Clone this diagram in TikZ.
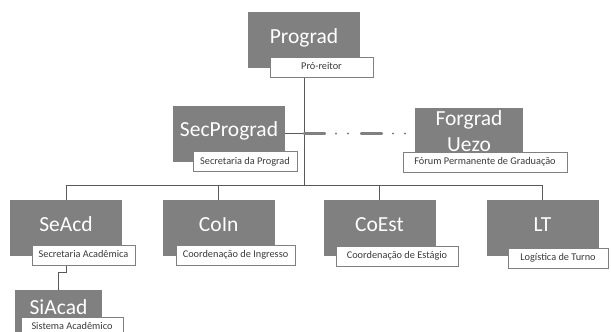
\documentclass[tikz,border=0pt]{standalone}
\usepackage{fontspec}
\setmainfont{Carlito}
\usetikzlibrary{backgrounds}
\definecolor{unitgray}{HTML}{808080}
\definecolor{linegray}{HTML}{595959}
\definecolor{tagtext}{HTML}{3A3A3A}

\begin{document}
\begin{tikzpicture}[x=1pt,y=-1pt,
  unitbox/.style={fill=unitgray,text=white,inner sep=0pt,minimum width=112pt,
    minimum height=56pt,font=\fontsize{21.5}{25}\selectfont},
  unit/.style={unitbox,text height=15pt,text depth=9pt},
  tag/.style={draw=unitgray,fill=white,line width=0.6pt,inner sep=0pt,minimum height=20pt,
    text=tagtext,font=\fontsize{10.3}{12}\selectfont,text height=7pt,text depth=2pt},
  link/.style={draw=linegray,line width=0.8pt},
  forum/.style={draw=unitgray,line width=2.2pt,line cap=round,
    dash pattern=on 21pt off 11pt on 0pt off 12pt on 0pt off 13pt}]
  \useasboundingbox (0,0) rectangle (611,332);
  % top
  \node[unit] (prograd) at (304,40) {Prograd};
  \node[tag,minimum width=103pt] (prograd-tag) at (321.5,67) {Pró-reitor};
  \node[unit] (secprograd) at (229,133.5) {SecPrograd};
  \node[tag,minimum width=104pt] (secprograd-tag) at (245,161.5) {Secretaria da Prograd};
  \node[unitbox,minimum width=108pt,minimum height=46pt,align=center,
    font=\fontsize{21.5}{25.5}\selectfont] (forgrad) at (469,131) {Forgrad\\Uezo};
  \node[tag,minimum width=164pt] (forgrad-tag) at (485,162) {Fórum Permanente de Graduação};
  % bottom row
  \foreach \n/\x/\t in {seacd/66/SeAcd,coin/218.75/CoIn,coest/379.5/CoEst,lt/542.5/LT}
    \node[unit] (\n) at (\x,228) {\t};
  \node[tag,minimum width=103pt] (seacd-tag) at (83.5,255) {Secretaria Acadêmica};
  \node[tag,minimum width=119pt] (coin-tag) at (235.5,255) {Coordenação de Ingresso};
  \node[tag,minimum width=122pt] (coest-tag) at (397,256) {Coordenação de Estágio};
  \node[tag,minimum width=100pt] (lt-tag) at (558,258) {Logística de Turno};
  \node[unit,minimum width=87pt,minimum height=42pt] (siacad) at (58.5,311) {SiAcad};
  \node[tag,minimum width=102pt] (siacad-tag) at (72,327) {Sistema Acadêmico};
  \coordinate (bus) at (304,185.5);
  \coordinate (sibend) at (66,272);
  \begin{scope}[on background layer]
    \draw[link] (prograd.south) -- (prograd.south |- bus);
    \draw[link] (seacd.north |- bus) -- (lt.north |- bus);
    \foreach \u in {seacd,coin,coest,lt}
      \draw[link] (\u.north |- bus) -- (\u.north);
    \draw[link] (secprograd.east) -- (prograd.south |- secprograd.east) coordinate (join);
    \draw[forum] (join) -- (join -| forgrad.west);
    \draw[link] (seacd.south) -- (sibend) -| (siacad.north);
  \end{scope}
\end{tikzpicture}
\end{document}
